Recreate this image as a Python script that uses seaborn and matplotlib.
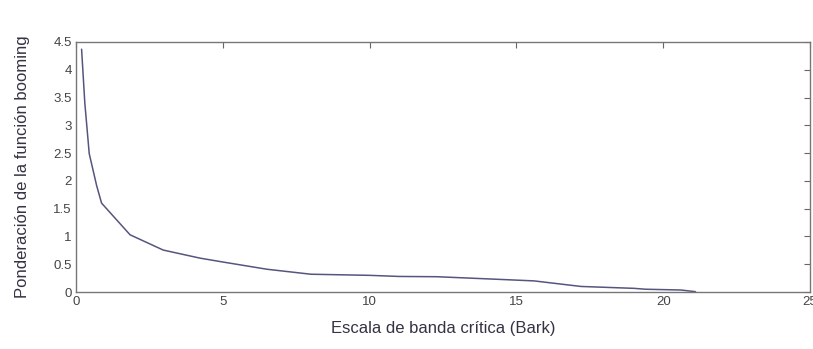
import numpy as np
import pandas as pd
import matplotlib.pyplot as plt
import seaborn as sns

# Werte
bark = [0.19, 0.3, 0.45, 0.7, 0.87, 1.84, 2.97, 4.22, 5.0, 6.5, 8.0, 10.0, 11.0, 12.3, 14.3, 15.6, 17.2, 19.0, 19.4, 20.6, 21.1]
gewicht = [4.37, 3.4, 2.49, 1.92, 1.6, 1.03, 0.755, 0.61, 0.54, 0.41, 0.32, 0.3, 0.28, 0.275, 0.23, 0.2, 0.1, 0.066, 0.05, 0.036, 0.006]

df = pd.DataFrame({"bark": bark, "gewicht": gewicht})

sns.set_style("white")
plt.rcParams['font.family'] = ['Liberation Sans', 'DejaVu Sans']

fig = plt.figure(figsize=(8.13, 3.49), dpi=100)
ax = fig.add_axes([0.0935, 0.1633, 0.9028, 0.7164])

sns.lineplot(data=df, x="bark", y="gewicht", ax=ax, color="#55557f", linewidth=1.1)

ax.set_xlim(0, 25)
ax.set_ylim(0, 4.5)
ax.set_xticks([0, 5, 10, 15, 20, 25])
ax.set_yticks(np.arange(0, 4.51, 0.5))
ax.set_yticklabels(["0", "0.5", "1", "1.5", "2", "2.5", "3", "3.5", "4", "4.5"])
ax.tick_params(direction="in", top=True, right=True, length=4, width=0.8,
               colors="#666666", labelsize=9.5, labelcolor="#444444", pad=3)
for s in ax.spines.values():
    s.set_color("#777777")
    s.set_linewidth(1.0)

ax.set_xlabel("Escala de banda crítica (Bark)", fontsize=12, color="#333344", labelpad=9)
ax.set_ylabel("Ponderación de la función booming", fontsize=12, color="#333344", labelpad=17)

fig.savefig("out.png", dpi=100)
